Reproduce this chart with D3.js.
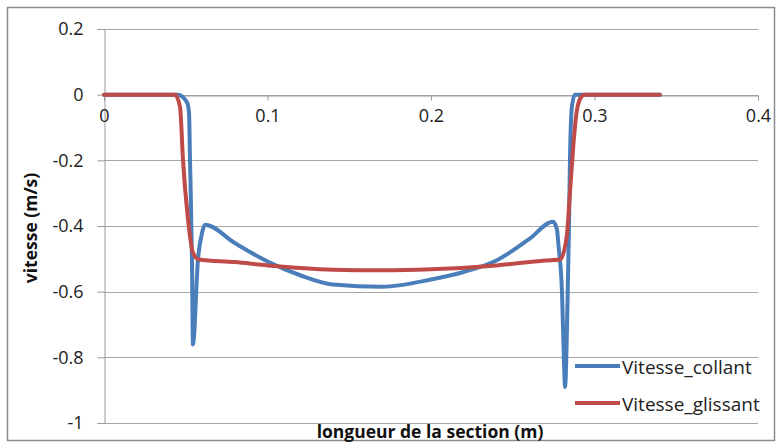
<!DOCTYPE html>
<html>
<head>
<meta charset="utf-8">
<script src="https://cdn.jsdelivr.net/npm/d3@7"></script>
<style>
  html, body { margin: 0; padding: 0; background: #fff; }
  svg { display: block; font-family: "Open Sans", "Noto Sans", sans-serif; }
</style>
</head>
<body>
<svg id="chart" width="777" height="444"></svg>
<script>
// series values
var collantX = [0, 0.02, 0.0453, 0.0508, 0.052, 0.0526, 0.0538, 0.0544, 0.0575, 0.06, 0.0618,
  0.08, 0.1, 0.12, 0.14, 0.17, 0.2, 0.22, 0.24, 0.26, 0.2746, 0.277, 0.278, 0.2801, 0.2813,
  0.282, 0.2832, 0.2844, 0.285, 0.2862, 0.288, 0.291, 0.31, 0.34];
var collantY = [0, 0, 0, -0.024, -0.055, -0.198, -0.502, -0.761, -0.50, -0.42, -0.396,
  -0.452, -0.508, -0.55, -0.578, -0.585, -0.563, -0.54, -0.505, -0.44, -0.387, -0.41, -0.46, -0.60, -0.807,
  -0.89, -0.706, -0.40, -0.198, -0.036, 0, 0, 0, 0];

var glissantX = [0, 0.02, 0.0434, 0.0465, 0.0483, 0.0514, 0.0544, 0.058, 0.08, 0.1, 0.14,
  0.17, 0.2, 0.24, 0.27, 0.279, 0.283, 0.285, 0.287, 0.289, 0.292, 0.294, 0.32, 0.34];
var glissantY = [0, 0, 0, -0.037, -0.198, -0.38, -0.481, -0.502, -0.51, -0.52, -0.533,
  -0.535, -0.532, -0.52, -0.505, -0.502, -0.432, -0.298, -0.158, -0.055, -0.006, 0, 0, 0];

var seriesNames = ['Vitesse_collant', 'Vitesse_glissant'];
var seriesColors = ['#4a7ebb', '#be4b48'];
var xTicks = [0, 0.1, 0.2, 0.3, 0.4];
var yTicks = [0.2, 0, -0.2, -0.4, -0.6, -0.8, -1];

var svg = d3.select('#chart');

// outer frame
svg.append('rect')
    .attr('x', 7.5).attr('y', 7.5)
    .attr('width', 767).attr('height', 433)
    .attr('fill', 'none')
    .attr('stroke', '#8c8c8c')
    .attr('stroke-width', 1.5);

var x = d3.scaleLinear().domain([0, 0.4]).range([104, 758]);
var y = d3.scaleLinear().domain([-1, 0.2]).range([423, 29]);

// horizontal gridlines
svg.append('g')
    .selectAll('line')
    .data(yTicks)
    .enter().append('line')
    .attr('x1', x(0)).attr('x2', x(0.4))
    .attr('y1', function (d) { return Math.round(y(d)) + 0.5; })
    .attr('y2', function (d) { return Math.round(y(d)) + 0.5; })
    .attr('stroke', '#a6a6a6')
    .attr('stroke-width', 1);

function styleAxis(g) {
  g.select('.domain').attr('stroke', '#9a9a9a');
  g.selectAll('.tick line').attr('stroke', '#9a9a9a');
  g.selectAll('.tick text')
      .attr('fill', '#222')
      .style('font-family', '"Open Sans", "Noto Sans", sans-serif')
      .style('font-size', '18px');
}

// y axis
var yAxis = d3.axisLeft(y)
    .tickValues(yTicks)
    .tickSize(7)
    .tickPadding(14)
    .tickFormat(function (d) { return String(d); });
svg.append('g')
    .attr('transform', 'translate(' + (Math.round(x(0)) + 0.5) + ',0)')
    .call(yAxis)
    .call(styleAxis);

// x axis sits at y = 0
var xAxis = d3.axisBottom(x)
    .tickValues(xTicks)
    .tickSize(5)
    .tickPadding(9)
    .tickFormat(function (d) { return String(d); });
svg.append('g')
    .attr('transform', 'translate(0,' + (Math.round(y(0)) + 0.5) + ')')
    .call(xAxis)
    .call(styleAxis);

// lines
var line = d3.line()
    .x(function (d) { return x(d[0]); })
    .y(function (d) { return y(d[1]); })
    .curve(d3.curveMonotoneX);

var series = [
  d3.zip(collantX, collantY),
  d3.zip(glissantX, glissantY)
];

svg.append('g')
    .selectAll('path')
    .data(series)
    .enter().append('path')
    .attr('d', line)
    .attr('fill', 'none')
    .attr('stroke', function (d, i) { return seriesColors[i]; })
    .attr('stroke-width', 4)
    .attr('stroke-linejoin', 'round')
    .attr('stroke-linecap', 'round');

// axis titles
svg.append('text')
    .attr('transform', 'translate(37,228) rotate(-90)')
    .attr('text-anchor', 'middle')
    .style('font-size', '17.5px')
    .style('font-weight', 'bold')
    .attr('fill', '#111')
    .text('vitesse (m/s)');

svg.append('text')
    .attr('x', 430).attr('y', 438)
    .attr('text-anchor', 'middle')
    .style('font-size', '17.5px')
    .style('font-weight', 'bold')
    .attr('fill', '#111')
    .text('longueur de la section (m)');

// legend
var legend = svg.append('g')
    .selectAll('g')
    .data(seriesNames)
    .enter().append('g')
    .attr('transform', function (d, i) { return 'translate(575,' + (366 + i * 37) + ')'; });

legend.append('line')
    .attr('x1', 0).attr('x2', 45)
    .attr('stroke', function (d, i) { return seriesColors[i]; })
    .attr('stroke-width', 4);

legend.append('text')
    .attr('x', 47).attr('y', 8)
    .style('font-size', '19px')
    .attr('fill', '#222')
    .text(function (d) { return d; });
</script>
</body>
</html>
